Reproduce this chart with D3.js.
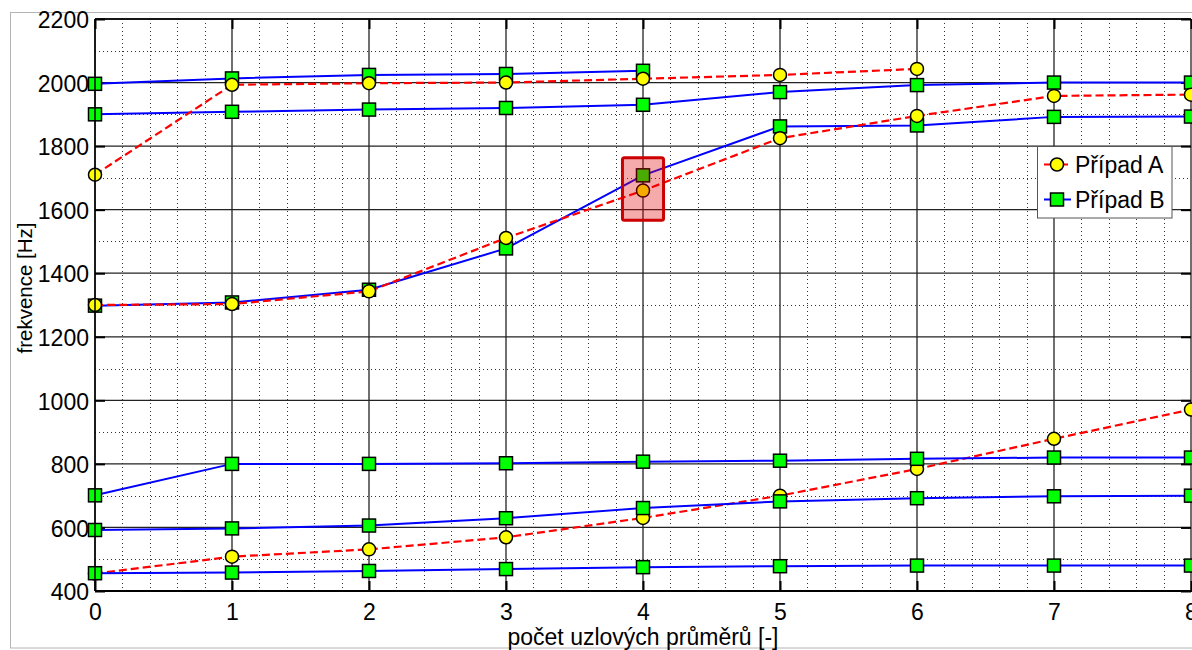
<!DOCTYPE html>
<html>
<head>
<meta charset="utf-8">
<script src="https://cdn.jsdelivr.net/npm/d3@7"></script>
<style>
  html, body { margin: 0; padding: 0; background: #fff; }
  svg { display: block; font-family: "Liberation Sans", Arial, Helvetica, sans-serif; }
</style>
</head>
<body>
<svg id="chart" width="1192" height="650"></svg>
<script>
// Počet uzlových průměrů (x) a vlastní frekvence [Hz] pro dva případy
const nodalDiameters = [0, 1, 2, 3, 4, 5, 6, 7, 8];

// Případ A – jednotlivé větve módů
const caseA1 = [1710, 1993, 1998, 2000, 2012, 2024, 2043];
const caseA2 = [1300, 1303, 1343, 1511, 1660, 1825, 1895, 1958, 1962];
const caseA3 = [455, 508, 531, 569, 630, 700, 784, 879, 971];

// Případ B – jednotlivé větve módů
const caseB1 = [1996, 2013, 2024, 2027, 2037];
const caseB2 = [1900, 1908, 1915, 1920, 1930, 1970, 1992, 2000, 2000];
const caseB3 = [1298, 1308, 1348, 1478, 1708, 1862, 1865, 1892, 1893];
const caseB4 = [701, 800, 800, 802, 807, 810, 816, 820, 820];
const caseB5 = [592, 597, 606, 629, 661, 682, 692, 698, 700];
const caseB6 = [456, 458, 463, 469, 475, 478, 480, 480, 480];

// Zvýrazněná oblast kolem 4 uzlových průměrů
const highlightX = [3.85, 4.15];
const highlightY = [1567, 1763];

const xTicks = [0, 1, 2, 3, 4, 5, 6, 7, 8];
const yTicks = [400, 600, 800, 1000, 1200, 1400, 1600, 1800, 2000, 2200];
const legendLabels = ["Případ A", "Případ B"];

(function () {
  const svg = d3.select("#chart");
  const L = 95, R = 1191, T = 19, B = 591;

  const x = d3.scaleLinear().domain([0, 8]).range([L, R]);
  const y = d3.scaleLinear().domain([400, 2200]).range([B, T]);

  // rámeček obrázku
  svg.append("rect")
    .attr("x", 10.5).attr("y", 12.5).attr("width", 1200).attr("height", 635.5)
    .attr("fill", "#fff").attr("stroke", "#b4b4b4").attr("stroke-width", 1);

  // vedlejší mřížka (tečkovaná)
  const xMinor = d3.range(0, 8.0001, 0.2).filter(v => Math.abs(v - Math.round(v)) > 1e-6);
  const yMinor = d3.range(500, 2200, 200);
  const grid = svg.append("g");
  grid.selectAll("line.xminor").data(xMinor).join("line").attr("class", "xminor")
    .attr("x1", d => Math.round(x(d)) + 0.5).attr("x2", d => Math.round(x(d)) + 0.5).attr("y1", T).attr("y2", B)
    .attr("stroke", "#333").attr("stroke-width", 1).attr("stroke-dasharray", "1,3");
  grid.selectAll("line.yminor").data(yMinor).join("line").attr("class", "yminor")
    .attr("x1", L).attr("x2", R).attr("y1", d => Math.round(y(d)) + 0.5).attr("y2", d => Math.round(y(d)) + 0.5)
    .attr("stroke", "#333").attr("stroke-width", 1).attr("stroke-dasharray", "1,3");

  // hlavní mřížka (plná)
  grid.selectAll("line.xmajor").data(xTicks).join("line").attr("class", "xmajor")
    .attr("x1", d => x(d)).attr("x2", d => x(d)).attr("y1", T).attr("y2", B)
    .attr("stroke", "#222").attr("stroke-width", 1.3);
  grid.selectAll("line.ymajor").data(yTicks).join("line").attr("class", "ymajor")
    .attr("x1", L).attr("x2", R).attr("y1", d => y(d)).attr("y2", d => y(d))
    .attr("stroke", "#222").attr("stroke-width", 1.3);

  // osy s tickami dovnitř
  const tickLen = 10;
  const axBottom = svg.append("g").attr("transform", `translate(0,${B})`)
    .call(d3.axisBottom(x).tickValues(xTicks).tickSize(-tickLen).tickPadding(13).tickFormat(d3.format("d")));
  const axTop = svg.append("g").attr("transform", `translate(0,${T})`)
    .call(d3.axisTop(x).tickValues(xTicks).tickSize(-tickLen).tickFormat(""));
  const axLeft = svg.append("g").attr("transform", `translate(${L},0)`)
    .call(d3.axisLeft(y).tickValues(yTicks).tickSize(-tickLen).tickPadding(6).tickFormat(d3.format("d")));
  const axRight = svg.append("g").attr("transform", `translate(${R},0)`)
    .call(d3.axisRight(y).tickValues(yTicks).tickSize(-tickLen).tickFormat(""));
  [axBottom, axTop, axLeft, axRight].forEach(a => {
    a.select(".domain").remove();
    a.selectAll(".tick line").attr("stroke", "#000").attr("stroke-width", 2);
    a.selectAll(".tick text").attr("fill", "#000").attr("font-size", 23)
      .attr("font-family", "'Liberation Sans', Arial, sans-serif");
  });
  axLeft.selectAll(".tick text").attr("dy", "0.38em");
  axBottom.selectAll(".tick text").attr("dy", "0.71em");

  // křivky
  const line = d3.line().x((d, i) => x(nodalDiameters[i])).y(d => y(d));
  const plotLayer = svg.append("g");

  function drawB(values) {
    plotLayer.append("path").datum(values).attr("d", line)
      .attr("fill", "none").attr("stroke", "#0000ff").attr("stroke-width", 2);
    plotLayer.append("g").selectAll("rect").data(values).join("rect")
      .attr("x", (d, i) => x(nodalDiameters[i]) - 6.5).attr("y", d => y(d) - 6.5)
      .attr("width", 13).attr("height", 13)
      .attr("fill", "#00ff00").attr("stroke", "#000").attr("stroke-width", 1.5);
  }
  function drawA(values) {
    plotLayer.append("path").datum(values).attr("d", line)
      .attr("fill", "none").attr("stroke", "#ff0000").attr("stroke-width", 2.2)
      .attr("stroke-dasharray", "8,4");
    plotLayer.append("g").selectAll("circle").data(values).join("circle")
      .attr("cx", (d, i) => x(nodalDiameters[i])).attr("cy", d => y(d)).attr("r", 6.5)
      .attr("fill", "#ffff00").attr("stroke", "#000").attr("stroke-width", 1.5);
  }

  drawB(caseB1);
  drawB(caseB2);
  drawB(caseB3);
  drawA(caseA1);
  drawA(caseA2);
  drawA(caseA3);
  drawB(caseB4);
  drawB(caseB5);
  drawB(caseB6);

  // zvýraznění
  svg.append("rect")
    .attr("x", x(highlightX[0])).attr("y", y(highlightY[1]))
    .attr("width", x(highlightX[1]) - x(highlightX[0]))
    .attr("height", y(highlightY[0]) - y(highlightY[1]))
    .attr("rx", 2).attr("ry", 2)
    .attr("fill", "rgb(224,0,0)").attr("fill-opacity", 0.33)
    .attr("stroke", "#cc0000").attr("stroke-width", 3);

  // obvod os
  svg.append("line").attr("x1", L).attr("x2", R).attr("y1", T).attr("y2", T)
    .attr("stroke", "#000").attr("stroke-width", 1.5);
  svg.append("line").attr("x1", L).attr("x2", R + 2).attr("y1", B).attr("y2", B)
    .attr("stroke", "#000").attr("stroke-width", 2);
  svg.append("line").attr("x1", L).attr("x2", L).attr("y1", T).attr("y2", B)
    .attr("stroke", "#000").attr("stroke-width", 1.5);

  // popisky os
  svg.append("text").attr("x", (L + R) / 2).attr("y", 645)
    .attr("text-anchor", "middle").attr("font-size", 23).attr("fill", "#000")
    .text("počet uzlových průměrů [-]");
  svg.append("text").attr("transform", "translate(32,288) rotate(-90)")
    .attr("text-anchor", "middle").attr("font-size", 20.5).attr("fill", "#000")
    .text("frekvence [Hz]");

  // legenda
  const lg = svg.append("g").attr("transform", "translate(1037,146)");
  lg.append("rect").attr("x", 0.5).attr("y", 0.5).attr("width", 134.5).attr("height", 71.5)
    .attr("fill", "#fff").attr("stroke", "#555").attr("stroke-width", 1);
  const entries = lg.selectAll("g.entry").data(legendLabels).join("g").attr("class", "entry")
    .attr("transform", (d, i) => `translate(0,${18.5 + i * 35})`);
  entries.append("line").attr("x1", 7).attr("x2", 34).attr("y1", 0).attr("y2", 0)
    .attr("stroke", (d, i) => i === 0 ? "#ff0000" : "#0000ff").attr("stroke-width", 2)
    .attr("stroke-dasharray", (d, i) => i === 0 ? "6,3" : null);
  entries.filter((d, i) => i === 0).append("circle").attr("cx", 20).attr("cy", 0).attr("r", 6.5)
    .attr("fill", "#ffff00").attr("stroke", "#000").attr("stroke-width", 1.5);
  entries.filter((d, i) => i === 1).append("rect").attr("x", 13.5).attr("y", -6.5).attr("width", 13).attr("height", 13)
    .attr("fill", "#00ff00").attr("stroke", "#000").attr("stroke-width", 1.5);
  entries.append("text").attr("x", 38).attr("y", 0).attr("dy", "0.36em")
    .attr("font-size", 23).attr("fill", "#000").text(d => d);
})();
</script>
</body>
</html>
